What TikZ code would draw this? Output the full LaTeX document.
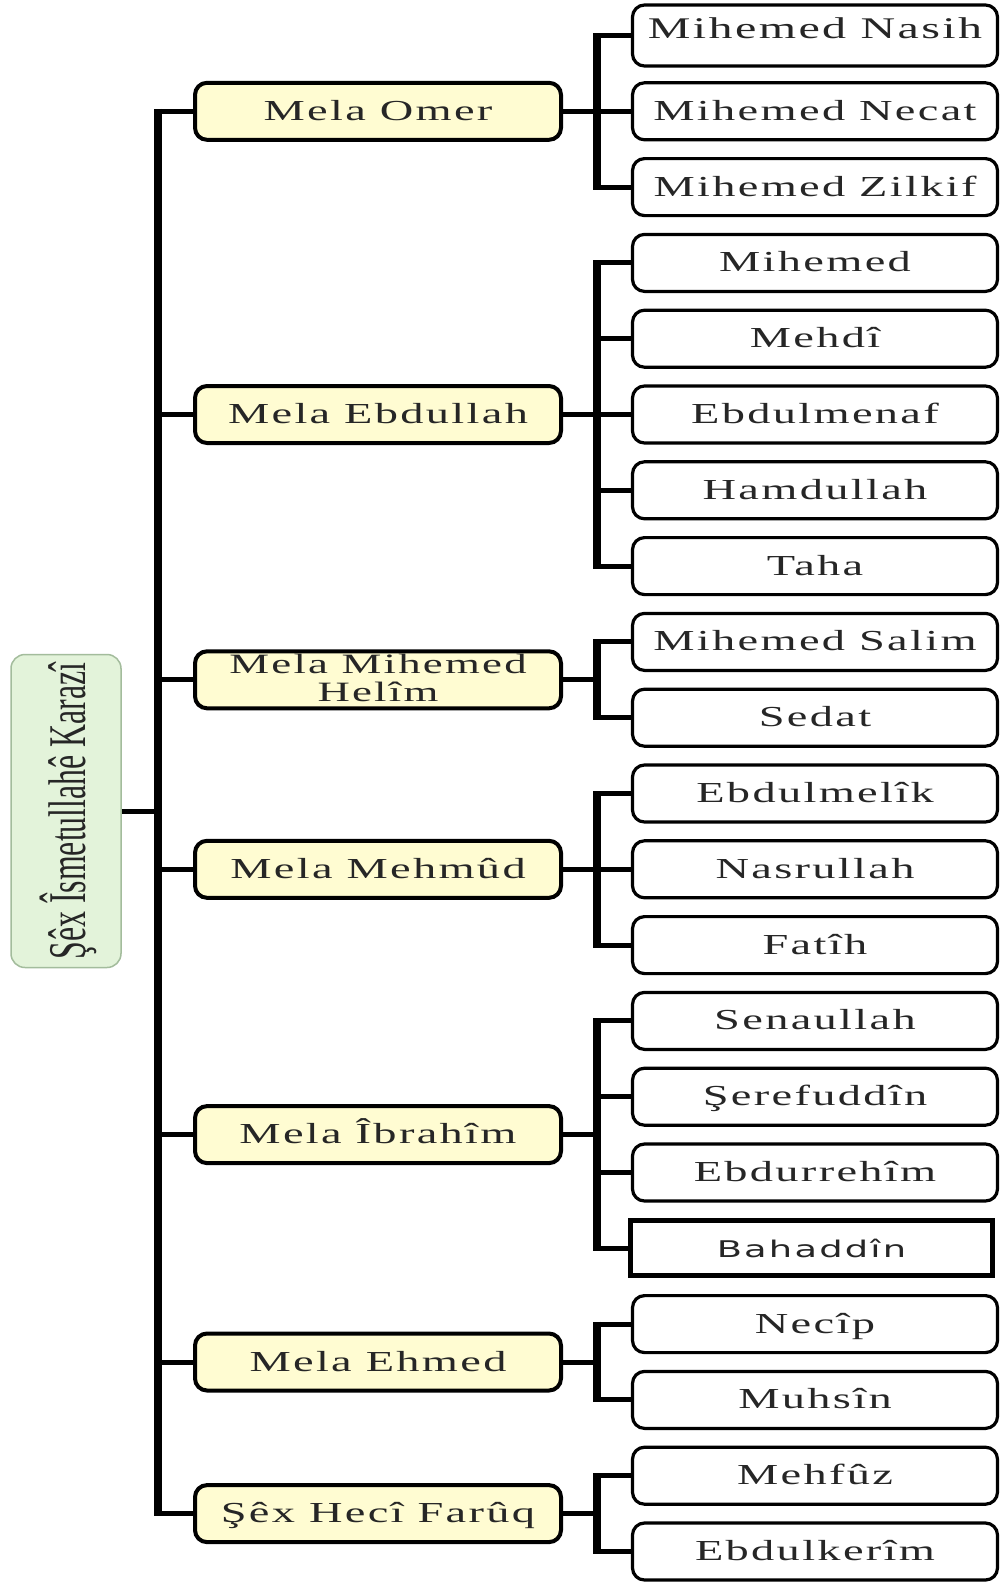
\documentclass[tikz,border=0pt]{standalone}
\usepackage{fontspec}
\usepackage{graphicx}
\setmainfont{Liberation Serif}
\newfontfamily\lvfont{Liberation Serif}[LetterSpace=5]
\newfontfamily\rootfont{Liberation Serif}
\newfontfamily\bahfont{DejaVu Sans}[LetterSpace=6]
\definecolor{l1fill}{HTML}{FFFCD2}
\definecolor{rootfill}{HTML}{E3F3DA}
\definecolor{rootdraw}{HTML}{A3BC9C}
\definecolor{txt}{HTML}{262626}
\newcommand\wideT[1]{\scalebox{1.6}[1]{#1}}
\tikzset{
  l1base/.style={draw=black, line width=4pt, rounded corners=12pt, fill=l1fill,
    minimum width=366pt, minimum height=57pt, inner sep=0pt, text=txt,
    font=\lvfont\fontsize{29}{29}\selectfont},
  l1box/.style={l1base, text height=18pt, text depth=0pt},
  l2base/.style={draw=black, line width=3.2pt, rounded corners=12pt, fill=white,
    minimum width=365pt, minimum height=57pt, inner sep=0pt, text=txt,
    font=\lvfont\fontsize{29}{31}\selectfont},
  l2box/.style={l2base, text height=18pt, text depth=0pt},
  l2big/.style={l2base, minimum height=61pt, text height=25pt, text depth=20pt,
    font=\lvfont\fontsize{30}{32}\selectfont},
  l2sq/.style={draw=black, line width=5pt, fill=white, minimum width=362pt,
    minimum height=55pt, inner sep=0pt, text=txt, text height=18pt, text depth=0pt,
    font=\bahfont\fontsize{23}{25}\selectfont},
  rootbox/.style={draw=rootdraw, line width=1.5pt, rounded corners=14pt, fill=rootfill,
    minimum width=313pt, minimum height=110pt, inner sep=0pt, text=txt,
    text height=38pt, text depth=0pt, font=\rootfont\fontsize{53}{60}\selectfont},
  hconn/.style={draw=black, line width=5pt},
  vconn/.style={draw=black, line width=8pt, shorten <=-2.5pt, shorten >=-2.5pt}
}
\begin{document}
\begin{tikzpicture}[x=1pt,y=-1pt]
\useasboundingbox[fill=white] (0,0) rectangle (1004,1583);
\coordinate (tr) at (158,0);
\coordinate (bx) at (597,0);
% root
\node[rootbox, rotate=90] (root) at (66,811) {\scalebox{0.6}[1]{Şêx Îsmetullahê Karazî}};
% level 1
\node[l1box] (A) at (378,111.3) {\wideT{Mela Omer}};
\node[l1box] (B) at (378,414.5) {\wideT{Mela Ebdullah}};
\node[l1base, font=\lvfont\fontsize{28}{28}\selectfont, text height=18pt, text depth=30pt] (C) at (378,679.8) {\wideT{\begin{tabular}[t]{@{}c@{}}Mela Mihemed\\Helîm\end{tabular}}};
\node[l1box] (D) at (378,869.3) {\wideT{Mela Mehmûd}};
\node[l1box] (E) at (378,1134.6) {\wideT{Mela Îbrahîm}};
\node[l1box] (F) at (378,1362) {\wideT{Mela Ehmed}};
\node[l1box] (G) at (378,1513.6) {\wideT{Şêx Hecî Farûq}};
% level 2
\node[l2big] (c1) at (815,35.5) {\wideT{Mihemed Nasih}};
\node[l2box] (c2) at (815,111.3) {\wideT{Mihemed Necat}};
\node[l2box] (c3) at (815,187.1) {\wideT{Mihemed Zilkif}};
\node[l2box] (c4) at (815,262.9) {\wideT{Mihemed}};
\node[l2box] (c5) at (815,338.7) {\wideT{Mehdî}};
\node[l2box] (c6) at (815,414.5) {\wideT{Ebdulmenaf}};
\node[l2box] (c7) at (815,490.3) {\wideT{Hamdullah}};
\node[l2box] (c8) at (815,566.1) {\wideT{Taha}};
\node[l2box] (c9) at (815,641.9) {\wideT{Mihemed Salim}};
\node[l2box] (c10) at (815,717.7) {\wideT{Sedat}};
\node[l2box] (c11) at (815,793.5) {\wideT{Ebdulmelîk}};
\node[l2box] (c12) at (815,869.3) {\wideT{Nasrullah}};
\node[l2box] (c13) at (815,945.1) {\wideT{Fatîh}};
\node[l2box] (c14) at (815,1020.9) {\wideT{Senaullah}};
\node[l2box] (c15) at (815,1096.7) {\wideT{Şerefuddîn}};
\node[l2box] (c16) at (815,1172.5) {\wideT{Ebdurrehîm}};
\node[l2sq] (c17) at (811.5,1248.3) {\scalebox{1.6}[1]{Bahaddîn}};
\node[l2box] (c18) at (815,1324.1) {\wideT{Necîp}};
\node[l2box] (c19) at (815,1399.9) {\wideT{Muhsîn}};
\node[l2box] (c20) at (815,1475.7) {\wideT{Mehfûz}};
\node[l2box] (c21) at (815,1551.5) {\wideT{Ebdulkerîm}};
% connectors
\draw[hconn] (root.south) -- (root.south -| tr);
\draw[vconn] (tr |- A.west) -- (tr |- G.west);
\foreach \n in {A,B,C,D,E,F,G} {
  \draw[hconn] (tr |- \n.west) -- (\n.west);
  \draw[hconn] (\n.east) -- (\n.east -| bx);
}
\foreach \s/\e in {1/3,4/8,9/10,11/13,14/17,18/19,20/21}
  \draw[vconn] (bx |- c\s.west) -- (bx |- c\e.west);
\foreach \i in {1,...,21}
  \draw[hconn] (bx |- c\i.west) -- (c\i.west);
\end{tikzpicture}
\end{document}
